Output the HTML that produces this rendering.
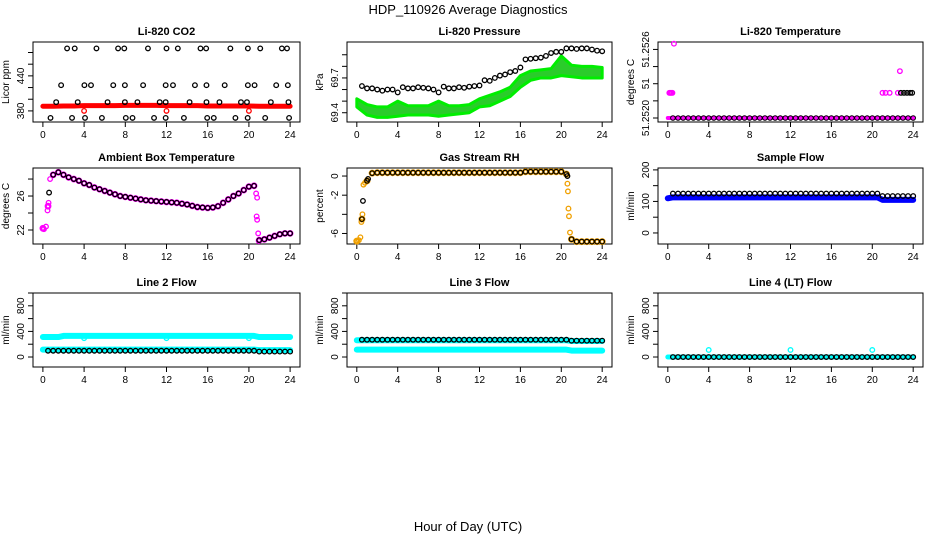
<!DOCTYPE html>
<html><head><meta charset="utf-8"><style>
body{margin:0;background:#fff}
svg{display:block;font-family:"Liberation Sans",sans-serif}
</style></head><body>
<svg id="c" width="936" height="540" viewBox="0 0 936 540">
<text x="468" y="14" text-anchor="middle" font-size="13">HDP_110926  Average Diagnostics</text>
<text x="468" y="531" text-anchor="middle" font-size="13">Hour of Day (UTC)</text>
</svg>
<script>
const halfHours = [0,0.5,1,1.5,2,2.5,3,3.5,4,4.5,5,5.5,6,6.5,7,7.5,8,8.5,9,9.5,10,10.5,11,11.5,12,12.5,13,13.5,14,14.5,15,15.5,16,16.5,17,17.5,18,18.5,19,19.5,20,20.5,21,21.5,22,22.5,23,23.5,24];
const fullHours = [0,1,2,3,4,5,6,7,8,9,10,11,12,13,14,15,16,17,18,19,20,21,22,23,24];
const xTicks = [0,4,8,12,16,20,24];

// CO2
const co2Black = [[2.35,487],[3.09,487],[5.2,487],[7.3,487],[7.9,487],[10.2,487],[12.0,487],[13.1,487],[15.3,487],[15.85,487],[18.2,487],[19.9,487],[21.1,487],[23.2,487],[23.7,487],
[1.77,424],[4.03,424],[4.67,424],[6.83,424],[7.96,424],[9.73,424],[11.92,424],[12.63,424],[14.76,424],[15.88,424],[17.65,424],[19.9,424],[20.55,424],[22.65,424],[23.78,424],
[1.29,395],[3.38,395],[6.28,395],[7.96,395],[9.18,395],[11.34,395],[11.92,395],[14.24,395],[15.88,395],[17.14,395],[19.23,395],[19.81,395],[22.13,395],[23.84,395],
[0.74,368],[2.83,368],[4.09,368],[5.73,368],[8.05,368],[8.7,368],[10.79,368],[11.92,368],[13.69,368],[15.95,368],[16.59,368],[18.69,368],[19.88,368],[21.58,368],[23.9,368]];
const co2Red = [388,388,388.5,388.5,389,389,389,389,389.5,389.5,389.5,389.5,389,389,389,389,388.5,388.5,388.5,388.5,388.5,388,388,388,388];
const co2RedOut = [[4,380],[12,380],[20,380]];

// Pressure
const presBlack = [null,69.63,69.61,69.61,69.60,69.59,69.60,69.60,69.575,69.62,69.61,69.61,69.62,69.615,69.61,69.60,69.575,69.625,69.61,69.61,69.62,69.615,69.625,69.63,69.635,69.68,69.675,69.70,69.72,69.73,69.75,69.76,69.79,69.86,69.865,69.87,69.875,69.89,69.915,69.925,69.925,69.955,69.955,69.95,69.955,69.955,69.945,69.935,69.93];
const greenHi = [69.52,69.47,69.45,69.45,69.50,69.46,69.46,69.46,69.50,69.46,69.46,69.47,69.52,69.55,69.58,69.62,69.72,69.76,69.77,69.78,69.89,69.81,69.80,69.80,69.79];
const greenLo = [69.45,69.38,69.36,69.36,69.37,69.38,69.38,69.38,69.37,69.38,69.39,69.40,69.45,69.46,69.50,69.54,69.62,69.68,69.70,69.70,69.72,69.71,69.70,69.70,69.70];

// Li-820 temperature
const tempBase = 51.2520;
const tempMagExtra = [[0.15,51.25222],[0.25,51.25222],[0.35,51.25222],[0.45,51.25222],[0.6,51.25265],[21,51.25222],[21.3,51.25222],[21.7,51.25222],[22.5,51.25222],[22.7,51.25241]];
const tempBlkExtra = [[22.8,51.25222],[23.1,51.25222],[23.4,51.25222],[23.7,51.25222],[23.9,51.25222]];

// Ambient
const ambTemp = [22.2,24.8,28.5,28.8,28.5,28.2,28.0,27.8,27.5,27.3,27.0,26.8,26.6,26.4,26.2,26.0,25.9,25.8,25.7,25.6,25.5,25.45,25.4,25.35,25.3,25.25,25.2,25.1,25.0,24.85,24.7,24.65,24.6,24.65,24.8,25.2,25.6,26.0,26.3,26.7,27.1,27.2,20.8,20.9,21.1,21.3,21.5,21.6,21.6];
const ambMagExtra = [[0.1,22.1],[0.3,22.4],[0.45,24.3],[0.55,25.2],[0.7,28.0],[20.7,26.3],[20.8,25.8],[20.75,23.6],[20.8,23.2],[20.9,21.6],[20.95,20.7]];
const ambBlkExtra = [[0.6,26.4]];

// RH
const rh = [-6.8,-4.5,-0.5,0.3,0.35,0.35,0.35,0.35,0.35,0.35,0.35,0.35,0.35,0.35,0.35,0.35,0.35,0.35,0.35,0.35,0.35,0.35,0.35,0.35,0.35,0.35,0.35,0.35,0.35,0.35,0.35,0.35,0.35,0.45,0.45,0.45,0.45,0.45,0.45,0.45,0.45,0.2,-6.6,-6.85,-6.85,-6.85,-6.85,-6.85,-6.85];
const rhExtra = [[0.2,-6.7],[0.35,-6.4],[0.45,-4.8],[0.55,-4.0],[0.65,-0.9],[0.8,-0.7],[20.6,-0.8],[20.65,-1.6],[20.7,-3.4],[20.75,-4.2],[20.85,-5.9]];
const rhBlkExtra = [[0.6,-2.6],[1.1,-0.3],[20.6,0]];

// Flows (values by half-hour; segment groups)
const sampleBlue = [110].concat(Array(41).fill(113), Array(7).fill(105));
const sampleBlack = [null].concat(Array(41).fill(125), Array(7).fill(117));
const l2CyanHi = [312,312,312,312].concat(Array(38).fill(330), Array(7).fill(312));
const l2Dips = [[4,295],[12,295],[20,295]];
const l2CyanLo = Array(42).fill(115).concat(Array(7).fill(108));
const l2Black = [null].concat(Array(41).fill(98), Array(7).fill(85));
const l3Black = [null].concat(Array(41).fill(270), Array(7).fill(255));
const l3CyanHi = Array(42).fill(262).concat(Array(7).fill(250));
const l3CyanLo = Array(42).fill(115).concat(Array(7).fill(100));
const l4Black = [null].concat(Array(48).fill(0));
const l4Cyan = Array(49).fill(0);
const l4Spikes = [[4,110],[12,110],[20,110]];

const svg = document.getElementById('c');
const NS = 'http://www.w3.org/2000/svg';
function mk(tag, attrs, parent){const e=document.createElementNS(NS,tag);for(const k in attrs)e.setAttribute(k,attrs[k]);(parent||svg).appendChild(e);return e;}

const cols = [[33,300],[347,612],[658,923]];
const rows = [[42,122],[168,244],[293,367]];

function panel(ci, ri, title, ylab, ylim, yTicks, yLabels, name){
  const [L,R]=cols[ci],[T,B]=rows[ri];
  const g = mk('g',{});
  
  
  const sx = h => L + (h+0.96)/25.92*(R-L);
  const sy = v => B - (v-ylim[0])/(ylim[1]-ylim[0])*(B-T);
  const t = mk('text',{x:(L+R)/2,y:T-7,'text-anchor':'middle','font-size':11,'font-weight':'bold'},g);
  t.textContent = title;
  
  
  const box = mk('rect',{x:L,y:T,width:R-L,height:B-T,fill:'none',stroke:'#000','stroke-width':1},g);
  
  
  const xa = mk('g',{},g);
  
  
  mk('line',{x1:sx(0),x2:sx(24),y1:B,y2:B,stroke:'#000'},xa);
  xTicks.forEach(h=>{
    mk('line',{x1:sx(h),x2:sx(h),y1:B,y2:B+5,stroke:'#000'},xa);
    const tl = mk('text',{x:sx(h),y:B+16,'text-anchor':'middle','font-size':10},xa);
    tl.textContent = h;
  });
  const ya = mk('g',{},g);
  
  
  mk('line',{x1:L,x2:L,y1:sy(yTicks[0]),y2:sy(yTicks[yTicks.length-1]),stroke:'#000'},ya);
  yTicks.forEach(v=>mk('line',{x1:L-5,x2:L,y1:sy(v),y2:sy(v),stroke:'#000'},ya));
  yLabels.forEach(([v,s])=>{
    const y=sy(v), x=L-9;
    const tl = mk('text',{x:x,y:y,'text-anchor':'middle','font-size':10,transform:`rotate(-90 ${x} ${y})`},ya);
    tl.textContent = s;
  });
  const yl = mk('text',{x:L-24,y:(T+B)/2,'text-anchor':'middle','font-size':10,transform:`rotate(-90 ${L-24} ${(T+B)/2})`},ya);
  yl.textContent = ylab;
  
  
  return {g,sx,sy,name};
}
function pts(p, xs, ys, color, sname, sw){
  const s = mk('g',{},p.g);
  
  
  xs.forEach((h,i)=>{ if(ys[i]==null) return;
    mk('circle',{cx:p.sx(h),cy:p.sy(ys[i]),r:2.3,fill:'none',stroke:color,'stroke-width':sw||1.3},s);});
  return s;
}
function pairs(p, arr, color, sname){ return pts(p, arr.map(a=>a[0]), arr.map(a=>a[1]), color, sname); }
function band(p, xs, ys, color, w, sname){
  const s = mk('polyline',{fill:'none',stroke:color,'stroke-width':w,'stroke-linejoin':'round','stroke-linecap':'round',
    points: xs.map((h,i)=>ys[i]==null?null:p.sx(h)+','+p.sy(ys[i])).filter(Boolean).join(' ')},p.g);
  
  
}

// Panel 1
let p = panel(0,0,'Li-820 CO2','Licor ppm',[361,498],[380,400,420,440,460,480],[[380,'380'],[440,'440']],'co2');
band(p, fullHours, co2Red, '#ff0000', 5, 'red-band');
pairs(p, co2RedOut, '#ff0000', 'red-outliers');
pairs(p, co2Black, '#000', 'black-points');

// Panel 2
p = panel(1,0,'Li-820 Pressure','kPa',[69.32,70.01],[69.4,69.5,69.6,69.7,69.8,69.9],[[69.4,'69.4'],[69.7,'69.7']],'pressure');
{
  const poly = fullHours.map((h,i)=>p.sx(h)+','+p.sy(greenHi[i])).concat(fullHours.slice().reverse().map((h,j)=>p.sx(h)+','+p.sy(greenLo[24-j])));
  const gp = mk('polygon',{points:poly.join(' '),fill:'#2bcc2b',stroke:'#00ee00','stroke-width':3,'stroke-linejoin':'round'},p.g);
  
  
}
pts(p, halfHours, presBlack, '#000', 'black-points');

// Panel 3
p = panel(2,0,'Li-820 Temperature','degrees C',[51.251965,51.252665],[51.2520,51.25215,51.2523,51.25245,51.2526],[[51.2520,'51.2520'],[51.2523,'51'],[51.2526,'51.2526']],'li820-temp');
band(p, halfHours, halfHours.map(()=>tempBase), '#ff00ff', 4, 'magenta-band');
pairs(p, tempMagExtra, '#ff00ff', 'magenta-points');
pts(p, halfHours.slice(1), halfHours.slice(1).map(()=>tempBase), '#000', 'black-points', 1);
pairs(p, tempBlkExtra, '#000', 'black-high-points');

// Panel 4
p = panel(0,1,'Ambient Box Temperature','degrees C',[20.35,29.3],[22,24,26,28],[[22,'22'],[26,'26']],'ambient');
pts(p, halfHours, ambTemp, '#ff00ff', 'magenta-points', 2.2);
pairs(p, ambMagExtra, '#ff00ff', 'magenta-transition');
pts(p, halfHours.slice(2), ambTemp.slice(2), '#000', 'black-points', 1.3);
pairs(p, ambBlkExtra, '#000', 'black-transition');

// Panel 5
p = panel(1,1,'Gas Stream RH','percent',[-7.1,0.84],[-6,-4,-2,0],[[-6,'-6'],[-2,'-2'],[0,'0']],'rh');
pts(p, halfHours, rh, '#f0a000', 'orange-points', 2.4);
pairs(p, rhExtra, '#f0a000', 'orange-transition');
pts(p, halfHours.slice(1), rh.slice(1), '#000', 'black-points', 1.2);
pairs(p, rhBlkExtra, '#000', 'black-transition');

// Panel 6
p = panel(2,1,'Sample Flow','ml/min',[-35,206],[0,50,100,150,200],[[0,'0'],[100,'100'],[200,'200']],'sample-flow');
band(p, halfHours, sampleBlue, '#0000ff', 6, 'blue-band');
pts(p, halfHours, sampleBlack, '#000', 'black-points');

// Panel 7
const flowTicks=[0,200,400,600,800,1000], flowLabels=[[0,'0'],[400,'400'],[800,'800']];
p = panel(0,2,'Line 2 Flow','ml/min',[-156,1000],flowTicks,flowLabels,'line2');
band(p, halfHours, l2CyanHi, '#00ffff', 6, 'cyan-high-band');
pairs(p, l2Dips, '#00ffff', 'cyan-dips');
band(p, halfHours, l2CyanLo, '#00ffff', 6, 'cyan-low-band');
pts(p, halfHours, l2Black, '#000', 'black-points');

// Panel 8
p = panel(1,2,'Line 3 Flow','ml/min',[-156,1000],flowTicks,flowLabels,'line3');
band(p, halfHours, l3CyanHi, '#00ffff', 6, 'cyan-high-band');
band(p, halfHours, l3CyanLo, '#00ffff', 6, 'cyan-low-band');
pts(p, halfHours, l3Black, '#000', 'black-points');

// Panel 9
p = panel(2,2,'Line 4 (LT) Flow','ml/min',[-156,1000],flowTicks,flowLabels,'line4');
band(p, halfHours, l4Cyan, '#00ffff', 5, 'cyan-band');
pairs(p, l4Spikes, '#00ffff', 'cyan-spikes');
pts(p, halfHours, l4Black, '#000', 'black-points');
</script>
</body></html>
